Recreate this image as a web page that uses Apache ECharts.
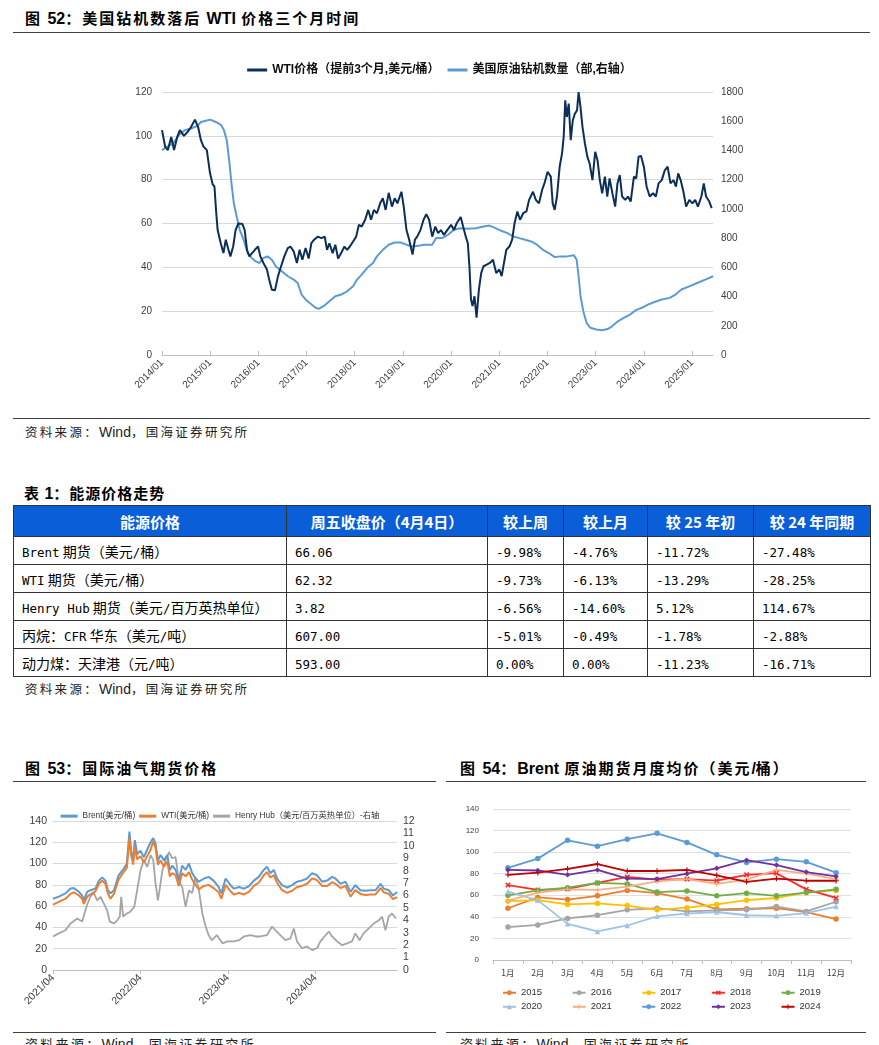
<!DOCTYPE html>
<html><head><meta charset="utf-8">
<script src="https://cdn.jsdelivr.net/npm/echarts@6/dist/echarts.min.js"></script>
<style>
html,body{margin:0;padding:0;background:#fff;}
body{width:879px;height:1045px;overflow:hidden;position:relative;font-family:"Noto Sans CJK SC",sans-serif;}
.ttl{position:absolute;font-family:"Noto Sans CJK SC",sans-serif;font-weight:bold;font-size:15px;line-height:16px;color:#000;white-space:nowrap;letter-spacing:2px;}
.ttl .lt{font-family:"Liberation Sans",sans-serif;font-size:16px;letter-spacing:0;}
.hl{position:absolute;height:0;border-top:1.5px solid #404040;}
.src{position:absolute;font-size:12.5px;line-height:14px;color:#222;white-space:nowrap;letter-spacing:2.3px;font-family:"Noto Sans CJK SC",sans-serif;}
.src .lt{font-family:"Liberation Sans",sans-serif;font-size:14px;letter-spacing:0;}
.ch{position:absolute;}
table{position:absolute;left:13px;top:505px;width:857px;border-collapse:collapse;table-layout:fixed;font-family:"Noto Sans CJK SC",sans-serif;font-size:14px;color:#000;}
td{border:1px solid #333;height:27px;padding:0 0 0 8px;text-align:left;white-space:nowrap;overflow:hidden;}
td .lt{font-family:"DejaVu Sans Mono",monospace;font-size:12.5px;}
th{border:1px solid #333;background:#0a5fd8;color:#fff;height:30px;padding:0;text-align:center;font-family:"Noto Sans CJK SC",sans-serif;font-size:15px;font-weight:bold;}
</style></head>
<body>
<div class="ttl" style="left:25px;top:10px;">图 52：美国钻机数落后 WTI 价格三个月时间</div>
<div class="hl" style="left:13px;top:32px;width:857px;"></div>
<div id="c1" class="ch" style="left:0;top:40px;width:879px;height:378px;"></div>
<div class="hl" style="left:13px;top:418px;width:857px;"></div>
<div class="src" style="left:25px;top:425px;">资料来源：Wind，国海证券研究所</div>

<div class="ttl" style="left:24px;top:485px;letter-spacing:1px;">表 1：能源价格走势</div>
<table id="tbl"></table>
<div class="src" style="left:25px;top:682px;">资料来源：Wind，国海证券研究所</div>

<div class="ttl" style="left:25px;top:760px;">图 53：国际油气期货价格</div>
<div class="hl" style="left:13px;top:781px;width:423px;"></div>
<div class="ttl" style="left:460px;top:760px;">图 54：Brent 原油期货月度均价（美元/桶）</div>
<div class="hl" style="left:446px;top:781px;width:420px;"></div>
<div id="c2" class="ch" style="left:0;top:790px;width:440px;height:240px;"></div>
<div id="c3" class="ch" style="left:440px;top:790px;width:439px;height:240px;"></div>
<div class="hl" style="left:13px;top:1032px;width:423px;"></div>
<div class="hl" style="left:446px;top:1032px;width:420px;"></div>
<div class="src" style="left:25px;top:1037px;font-size:13px;">资料来源：Wind，国海证券研究所</div>
<div class="src" style="left:460px;top:1037px;font-size:13px;">资料来源：Wind，国海证券研究所</div>

<script>
// ---------- Figure 52 data ----------
const wtiDates = ['2014-01-01','2014-01-25','2014-02-15','2014-03-10','2014-04-01','2014-04-25','2014-05-15','2014-06-15','2014-07-15','2014-08-08','2014-09-07','2014-10-01','2014-10-22','2014-11-12','2014-12-06','2014-12-30',
'2015-01-19','2015-02-03','2015-02-15','2015-02-27','2015-03-20','2015-04-10','2015-04-28','2015-05-18','2015-06-02','2015-06-23','2015-07-11','2015-08-01','2015-09-01','2015-09-19','2015-10-06','2015-10-24','2015-11-14','2015-12-05','2015-12-29',
'2016-01-16','2016-02-09','2016-03-05','2016-03-22','2016-04-12','2016-05-05','2016-05-28','2016-06-21','2016-07-15','2016-08-11','2016-09-01','2016-09-25','2016-10-19','2016-11-09','2016-11-30','2016-12-24',
'2017-01-17','2017-02-07','2017-02-28','2017-03-24','2017-04-23','2017-05-17','2017-06-04','2017-06-22','2017-07-16','2017-08-06','2017-08-27','2017-09-20','2017-10-14','2017-11-04','2017-11-25','2017-12-19',
'2018-01-12','2018-02-02','2018-02-23','2018-03-19','2018-04-12','2018-05-03','2018-05-24','2018-06-17','2018-07-11','2018-08-01','2018-08-22','2018-09-15','2018-10-09','2018-10-30','2018-11-20','2018-12-20',
'2019-01-07','2019-01-28','2019-02-18','2019-03-13','2019-03-31','2019-04-18','2019-05-12','2019-06-05','2019-06-26','2019-07-17','2019-08-10','2019-09-03','2019-09-24','2019-10-15','2019-11-08','2019-12-02',
'2020-01-01','2020-01-22','2020-02-12','2020-03-13','2020-03-31','2020-04-21','2020-05-06','2020-05-18','2020-05-30','2020-06-11','2020-06-26','2020-07-11','2020-07-29','2020-08-16','2020-09-03','2020-09-27','2020-10-21','2020-11-14','2020-12-08',
'2021-01-01','2021-01-19','2021-02-06','2021-02-24','2021-03-17','2021-04-07','2021-04-25','2021-05-16','2021-06-06','2021-06-30','2021-07-24','2021-08-14','2021-09-13','2021-10-04','2021-10-28','2021-11-21','2021-12-12',
'2022-01-02','2022-01-26','2022-02-10','2022-02-25','2022-03-12','2022-04-02','2022-04-20','2022-05-02','2022-05-14','2022-05-26','2022-06-10','2022-06-25','2022-07-10','2022-07-25','2022-08-12','2022-08-24','2022-09-08','2022-09-23','2022-10-11','2022-10-29','2022-11-16','2022-12-07','2022-12-28',
'2023-01-15','2023-02-02','2023-02-20','2023-03-10','2023-03-28','2023-04-15','2023-05-06','2023-05-27','2023-06-14','2023-07-01','2023-07-19','2023-08-12','2023-09-02','2023-09-23','2023-10-17','2023-11-04','2023-11-22','2023-12-10',
'2024-01-01','2024-01-22','2024-02-15','2024-03-10','2024-03-31','2024-04-21','2024-05-15','2024-06-08','2024-06-29','2024-07-20','2024-08-13','2024-08-31','2024-09-18','2024-10-06','2024-10-27','2024-11-17','2024-12-11',
'2025-01-04','2025-01-25','2025-02-15','2025-03-11','2025-03-29','2025-04-16','2025-05-10','2025-05-28'];
const wtiPrice = [102.6,95,93.5,99.5,93.5,99.5,102.6,100,102,104,107.4,104,98,95,93.5,83,
78,76.8,66,57,51,46.5,52.6,48,45,49.5,57,60,59.8,57,48,45,46.5,48,49.5,
45,42,39,34.4,29.8,29.5,36,40.5,45,48.8,49.5,47.3,42,48,43.5,48.8,
44,51,52.6,54,53.3,54,48,51,46.5,50.3,44,46.5,49.5,48,49.5,51.8,
54,59.4,58.6,61.7,66.2,61.7,66.2,64.7,69.2,71.5,66.2,74,67.7,71.5,69.2,74.5,
67.7,57,52.6,45.8,52.6,54,57,61.7,64.2,61.7,54,58.6,55.6,57,54.8,57,
59.4,57,60,63,58.6,54,51,40.5,25.3,22.3,26.8,17,29.8,37.4,40.5,41.2,42,43.5,37.4,
39,36,42,48,49.5,52.6,60,65.5,61.7,64.7,65.5,70.8,74.5,70.8,69.2,75.3,79,
83.6,81.4,69.2,66.2,72.3,85.9,92,99.5,116.2,108.6,114.7,98,107,110,111.7,120,113,104,96.5,90.5,87.4,79.8,92.7,
88.9,79.8,73.8,81.4,72.3,80.6,73.8,67.7,78.3,82.1,72.3,70.8,72.3,70,81.4,80.6,90.5,90.8,
85.9,76.8,72.3,73.8,72.3,78.3,79.8,84.4,85.9,78.3,79.8,76.8,82.9,79.8,74.5,67.7,70.8,
69.2,70.8,67.7,72.3,78.3,72.3,70,67];

const rigDates = ['2014-01-01','2014-02-08','2014-03-24','2014-05-08','2014-06-22','2014-08-08','2014-09-22','2014-10-22','2014-11-21',
'2015-01-01','2015-02-13','2015-03-24','2015-04-14','2015-05-05','2015-05-23','2015-06-10','2015-06-28','2015-07-19','2015-08-12','2015-09-11','2015-10-11','2015-11-10','2015-12-10',
'2016-01-10','2016-02-09','2016-03-10','2016-04-12','2016-05-11','2016-06-26','2016-08-11','2016-09-25','2016-10-25','2016-11-24','2016-12-24',
'2017-01-23','2017-03-09','2017-04-02','2017-05-08','2017-06-22','2017-08-06','2017-09-20','2017-11-04','2017-12-19',
'2018-01-18','2018-02-23','2018-04-03','2018-05-18','2018-06-17','2018-08-01','2018-09-15','2018-10-30','2018-12-14',
'2019-01-28','2019-03-13','2019-04-27','2019-06-11','2019-08-10','2019-09-09','2019-10-24','2019-12-08',
'2020-01-22','2020-03-07','2020-05-06','2020-07-05','2020-09-03','2020-10-18','2020-12-02',
'2021-01-16','2021-03-02','2021-04-16','2021-05-31','2021-07-15','2021-08-29','2021-10-13','2021-11-27',
'2022-01-11','2022-02-25','2022-04-11','2022-05-26','2022-07-19','2022-08-09','2022-08-24','2022-09-08','2022-09-29','2022-10-23','2022-11-22',
'2023-01-06','2023-02-20','2023-04-06','2023-05-06','2023-06-20','2023-08-04','2023-09-18','2023-11-02','2023-12-17',
'2024-01-31','2024-03-16','2024-05-15','2024-07-14','2024-08-28','2024-10-12','2024-12-11',
'2025-02-09','2025-04-10','2025-06-09'];
const rigCount = [1402,1425,1448,1505,1539,1550,1566,1595,1602,
1611,1595,1573,1539,1470,1334,1175,1039,948,857,789,698,664,641,
630,664,675,652,607,573,539,516,493,414,380,
357,323,316,334,368,402,414,436,470,
516,550,595,630,675,720,755,770,770,
755,743,748,755,755,800,800,823,
857,868,864,868,880,886,868,
850,834,811,800,789,777,755,720,
698,670,675,675,682,652,539,402,300,220,186,
175,170,180,198,232,255,277,307,323,
345,361,380,391,414,448,470,
493,516,539];
const fig52Years = [2014,2015,2016,2017,2018,2019,2020,2021,2022,2023,2024,2025];

// ---------- Figure 53 data ----------
const oilDates = ['2021-04-01','2021-04-25','2021-05-23','2021-06-13','2021-06-27','2021-07-18','2021-08-01','2021-08-08','2021-08-22','2021-09-05','2021-09-26','2021-10-10','2021-10-24','2021-11-07','2021-11-17','2021-11-28','2021-12-12',
'2022-01-01','2022-01-22','2022-02-05','2022-02-16','2022-02-23','2022-03-01','2022-03-08','2022-03-18','2022-04-01','2022-04-15','2022-04-29','2022-05-13','2022-05-24','2022-06-03','2022-06-13','2022-06-24','2022-07-08','2022-07-22','2022-08-02','2022-08-12','2022-08-26','2022-09-09','2022-09-23','2022-10-07','2022-10-21','2022-11-04','2022-11-18','2022-12-02','2022-12-23',
'2023-01-12','2023-02-02','2023-02-23','2023-03-04','2023-03-22','2023-04-12','2023-04-26','2023-05-17','2023-06-07','2023-06-28','2023-07-18','2023-08-08','2023-08-29','2023-09-12','2023-09-26','2023-10-10','2023-10-24','2023-11-14','2023-12-05','2023-12-26',
'2024-01-16','2024-02-06','2024-02-27','2024-03-18','2024-04-08','2024-04-29','2024-05-20','2024-06-10','2024-06-24','2024-07-15','2024-08-05','2024-08-26','2024-09-16','2024-10-07','2024-10-28','2024-11-18','2024-12-09','2024-12-30',
'2025-01-13','2025-02-03','2025-02-21','2025-03-08'];
const brentPrice = [67,69,72,76.5,77,73.4,70,65.6,73.4,75,76.5,84,87,84,75,72,75,
89,95,100,130,112,103,122,109,112,106,113,120,124,119,103,108,103,108,94,98,94,84,98,94,100,91,86,83,86,
87.5,84,78,72,86,79.7,76.5,78,76.5,78.7,84,87.5,94,97,91,94,86,79.7,77.5,79.7,
83,84,86,91,89,83,84,87.5,86,81,83,73.4,79.7,75,74.4,75,75,81,
76.5,75,70,73.4];
const wtiFutPrice = [61.5,64,67,71.5,73,70,67,62,69,71,74,81,84,81,72,67,71.5,
85,92,96,124,108,99,116,104,107,101,107,113,121,115,99,103,97,102,88,91,89,79,91,88,92,85,80,76,79,
80,77,73,67,80,74,71,72.5,71,73.5,79,82,89,92,87,89,82,75,72.5,74.5,
78,79,81,86,84.5,79,79,82.5,81,77,79,69,75,71.5,70.5,71,71,77,
73,71.5,66.5,68.5];
const hhDates = ['2021-04-01','2021-04-25','2021-05-23','2021-06-13','2021-07-11','2021-08-01','2021-08-19','2021-09-05','2021-09-19','2021-10-03','2021-10-17','2021-10-31','2021-11-14','2021-11-25','2021-12-12','2021-12-26',
'2022-01-06','2022-01-12','2022-01-20','2022-02-05','2022-02-20','2022-03-06','2022-03-20','2022-04-01','2022-04-15','2022-04-29','2022-05-13','2022-05-24','2022-06-03','2022-06-13','2022-06-22','2022-07-01','2022-07-15','2022-07-29','2022-08-12','2022-08-26','2022-09-09','2022-09-23','2022-10-07','2022-10-21','2022-11-04','2022-11-18','2022-12-02','2022-12-16','2022-12-30',
'2023-01-12','2023-01-26','2023-02-16','2023-03-09','2023-03-30','2023-04-26','2023-05-17','2023-06-07','2023-07-05','2023-07-26','2023-08-15','2023-09-12','2023-10-03','2023-10-17','2023-11-07','2023-11-28','2023-12-19',
'2024-01-02','2024-01-16','2024-02-06','2024-02-27','2024-03-18','2024-04-08','2024-04-22','2024-05-13','2024-05-27','2024-06-10','2024-07-01','2024-07-22','2024-08-12','2024-09-02','2024-09-16','2024-10-03','2024-10-20','2024-11-11','2024-12-02','2024-12-23',
'2025-01-06','2025-01-20','2025-02-03','2025-02-17','2025-03-03'];
const hhPrice = [2.7,2.95,3.2,3.75,4.15,3.9,5.1,5.9,6.2,5.6,5.9,5.35,4.8,3.9,3.75,4.0,
4.3,5.9,4.3,4.55,4.7,5.1,6.7,8.0,8.85,8.3,9.25,8.85,7.0,5.6,6.7,8.0,8.85,9.5,9.0,9.1,7.2,6.7,5.1,6.4,6.2,7.5,6.4,4.55,3.5,
2.8,2.4,2.8,2.15,2.3,2.3,2.4,2.7,2.8,2.7,2.7,2.8,3.5,3.2,2.8,2.4,2.55,
3.35,2.3,1.75,1.9,1.6,1.75,2.3,2.8,3.1,2.7,2.3,2.0,2.15,2.3,2.95,2.4,2.95,3.35,3.75,4.0,
4.3,3.2,4.3,4.55,4.15];
const fig53Ticks = [2021.25,2022.25,2023.25,2024.25];

// ---------- Figure 54 data ----------
const months = ['1月','2月','3月','4月','5月','6月','7月','8月','9月','10月','11月','12月'];
const b2015 = [48,58,56,59.5,64.5,62,56.5,47,47.5,48,44.5,38];
const b2016 = [30.5,32.5,38.5,41.5,46.5,48,45,46,46.5,49.5,45,54];
const b2017 = [54.5,55.5,51.5,52.5,50.5,46.5,48.5,51.5,55.5,57.5,62.5,64.5];
const b2018 = [69.5,65,66,71.5,77,74.5,75,73.5,79,80.5,65.5,57.5];
const b2019 = [60,64.5,67,71.5,70.5,63,64,59.5,62,59.5,62.5,65.5];
const b2020 = [63.5,55.5,33.5,26.5,32,40.5,43,44.5,41.5,41,43.5,49.5];
const b2021 = [55,62.5,65.5,65,68,73,75,70.5,74.5,83.5,80,75];
const b2022 = [85.5,94,111,105.5,112,117.5,109,97.5,90.5,93.5,91,81];
const b2023 = [83.5,83,79,83.5,75.5,75,80,85,92.5,88,81.5,77.5];
const b2024 = [79,81,84.5,89,82.5,82.5,83.5,78.5,72.5,75.5,73.5,73.5];

// ---------- Table data ----------
const tableHead = ['能源价格','周五收盘价（4月4日）','较上周','较上月','较 25 年初','较 24 年同期'];
const tableRows = [
 ['Brent 期货（美元/桶）','66.06','-9.98%','-4.76%','-11.72%','-27.48%'],
 ['WTI 期货（美元/桶）','62.32','-9.73%','-6.13%','-13.29%','-28.25%'],
 ['Henry Hub 期货（美元/百万英热单位）','3.82','-6.56%','-14.60%','5.12%','114.67%'],
 ['丙烷：CFR 华东（美元/吨）','607.00','-5.01%','-0.49%','-1.78%','-2.88%'],
 ['动力煤：天津港（元/吨）','593.00','0.00%','0.00%','-11.23%','-16.71%']
];
const colWidths = [273,201,76,84,106,117];

// ---------- helpers ----------
function toYear(s){const p=s.split('-').map(Number);return p[0]+(p[1]-1)/12+(p[2]-1)/365;}
function pairs(d,v){return d.map((s,i)=>[toYear(s),v[i]]);}
function wrapLatin(s){return s.replace(/[\x21-\x7e]+(?: [\x21-\x7e]+)*/g,m=>'<span class="lt">'+m+'</span>');}

// wrap Latin runs in titles / sources so CJK letter-spacing does not spread them
document.querySelectorAll('.ttl,.src').forEach(el=>{el.innerHTML=wrapLatin(el.textContent);});

// ---------- table ----------
(function(){
  const t=document.getElementById('tbl');
  let h='<colgroup>'+colWidths.map(w=>'<col style="width:'+w+'px">').join('')+'</colgroup>';
  h+='<tr>'+tableHead.map(x=>'<th>'+x+'</th>').join('')+'</tr>';
  tableRows.forEach(r=>{h+='<tr>'+r.map(x=>'<td>'+wrapLatin(x)+'</td>').join('')+'</tr>';});
  t.innerHTML=h;
})();

const latin='"Liberation Sans","Noto Sans CJK SC",sans-serif';

// ---------- chart 1 ----------
const c1=echarts.init(document.getElementById('c1'));
c1.setOption({
  animation:false,
  textStyle:{fontFamily:latin},
  legend:{top:19,left:'center',itemWidth:20,itemHeight:3,itemGap:8,icon:'rect',
    textStyle:{fontSize:12,color:'#111',fontWeight:'bold',fontFamily:latin},
    data:['WTI价格（提前3个月,美元/桶）','美国原油钻机数量（部,右轴）']},
  grid:{left:162,right:166,top:52,bottom:63},
  xAxis:{type:'value',min:2014,max:2025.435,
    axisLine:{lineStyle:{color:'#bfbfbf'}},
    axisTick:{show:true,inside:true,length:4,lineStyle:{color:'#bfbfbf'},customValues:fig52Years},
    axisLabel:{rotate:45,fontSize:10,color:'#404040',margin:6,customValues:fig52Years,
      formatter:v=>Math.round(v)+'/01'},
    splitLine:{show:false}},
  yAxis:[
    {type:'value',min:0,max:120,interval:20,axisLine:{show:false},axisTick:{show:false},
     axisLabel:{fontSize:10,color:'#404040',margin:10},
     splitLine:{lineStyle:{color:'#d9d9d9'}}},
    {type:'value',min:0,max:1800,interval:200,axisLine:{show:false},axisTick:{show:false},
     axisLabel:{fontSize:10,color:'#404040',margin:8,formatter:v=>String(v)},splitLine:{show:false}}
  ],
  series:[
    {name:'WTI价格（提前3个月,美元/桶）',type:'line',data:pairs(wtiDates,wtiPrice),showSymbol:false,
     lineStyle:{width:2,color:'#0c2f57'},itemStyle:{color:'#0c2f57'},z:3},
    {name:'美国原油钻机数量（部,右轴）',type:'line',yAxisIndex:1,data:pairs(rigDates,rigCount),showSymbol:false,
     lineStyle:{width:2,color:'#5b9bd5'},itemStyle:{color:'#5b9bd5'},z:2}
  ]
});

// ---------- chart 2 ----------
const c2=echarts.init(document.getElementById('c2'));
c2.setOption({
  animation:false,
  textStyle:{fontFamily:latin},
  legend:{top:17,left:'center',itemWidth:17,itemHeight:3,itemGap:4,icon:'rect',
    textStyle:{fontSize:8.3,color:'#333',fontFamily:latin},
    data:['Brent(美元/桶)','WTI(美元/桶)','Henry Hub（美元/百万英热单位）-右轴']},
  grid:{left:53,right:43,top:31,bottom:60},
  xAxis:{type:'value',min:2021.25,max:2025.184,
    axisLine:{lineStyle:{color:'#bfbfbf'}},
    axisTick:{show:true,length:4,lineStyle:{color:'#bfbfbf'},customValues:fig53Ticks},
    axisLabel:{rotate:45,fontSize:10.5,color:'#404040',margin:6,customValues:fig53Ticks,
      formatter:v=>Math.floor(v)+'/04'},
    splitLine:{show:false}},
  yAxis:[
    {type:'value',min:0,max:140,interval:20,axisLine:{show:false},axisTick:{show:false},
     axisLabel:{fontSize:10.5,color:'#404040',margin:6},splitLine:{lineStyle:{color:'#d9d9d9'}}},
    {type:'value',min:0,max:12,interval:1,axisLine:{show:false},axisTick:{show:false},
     axisLabel:{fontSize:10.5,color:'#404040',margin:6},splitLine:{show:false}}
  ],
  series:[
    {name:'Brent(美元/桶)',type:'line',data:pairs(oilDates,brentPrice),showSymbol:false,
     lineStyle:{width:2,color:'#5b9bd5'},itemStyle:{color:'#5b9bd5'},z:2},
    {name:'WTI(美元/桶)',type:'line',data:pairs(oilDates,wtiFutPrice),showSymbol:false,
     lineStyle:{width:2,color:'#ed7d31'},itemStyle:{color:'#ed7d31'},z:3},
    {name:'Henry Hub（美元/百万英热单位）-右轴',type:'line',yAxisIndex:1,data:pairs(hhDates,hhPrice),showSymbol:false,
     lineStyle:{width:1.8,color:'#a5a5a5'},itemStyle:{color:'#a5a5a5'},z:1}
  ]
});

// ---------- chart 3 ----------
const crossPath='path://M2,0L5,3L8,0L10,2L7,5L10,8L8,10L5,7L2,10L0,8L3,5L0,2Z';
const plusPath='path://M4,0H6V4H10V6H6V10H4V6H0V4H4Z';
const yearSeries=[
  ['2015',b2015,'#ed7d31','circle'],
  ['2016',b2016,'#a5a5a5','circle'],
  ['2017',b2017,'#ffc000','circle'],
  ['2018',b2018,'#ff2b2b',crossPath],
  ['2019',b2019,'#70ad47','circle'],
  ['2020',b2020,'#9dc3e6','triangle'],
  ['2021',b2021,'#f4b183',plusPath],
  ['2022',b2022,'#5b9bd5','circle'],
  ['2023',b2023,'#7030a0','diamond'],
  ['2024',b2024,'#c00000',plusPath]
];
const c3=echarts.init(document.getElementById('c3'));
const legendCommon={itemWidth:13,itemHeight:6,itemGap:29.5,
  textStyle:{fontSize:9.5,color:'#333',fontFamily:latin}};
c3.setOption({
  animation:false,
  textStyle:{fontFamily:latin},
  legend:[
    Object.assign({top:193,left:57,data:['2015','2016','2017','2018','2019']},legendCommon),
    Object.assign({top:207,left:57,data:['2020','2021','2022','2023','2024']},legendCommon)
  ],
  grid:{left:53,right:28,top:19,bottom:70},
  xAxis:{type:'category',data:months,boundaryGap:true,
    axisLine:{lineStyle:{color:'#bfbfbf'}},
    axisTick:{show:true,length:4,lineStyle:{color:'#bfbfbf'}},
    axisLabel:{fontSize:8.5,color:'#404040',margin:9,interval:0,fontFamily:'"Noto Sans CJK SC",sans-serif'}},
  yAxis:{type:'value',min:0,max:140,interval:20,axisLine:{show:false},axisTick:{show:false},
    axisLabel:{fontSize:8,color:'#404040',margin:14},splitLine:{lineStyle:{color:'#e0e0e0'}}},
  series:yearSeries.map(s=>({name:s[0],type:'line',data:s[1],symbol:s[3],symbolSize:5.5,
    lineStyle:{width:1.8,color:s[2]},itemStyle:{color:s[2]}}))
});
</script>
</body></html>
